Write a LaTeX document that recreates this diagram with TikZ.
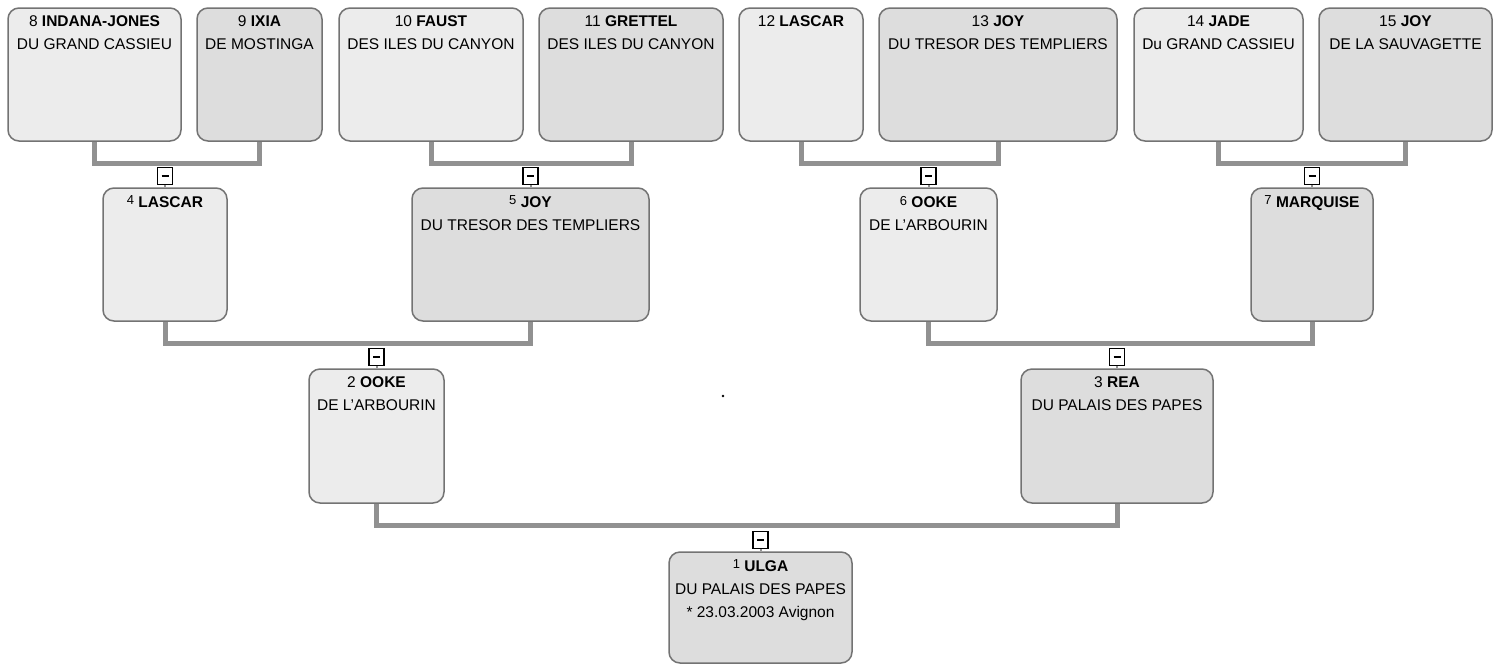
\documentclass[tikz,border=0pt]{standalone}
\usepackage{fontspec}
\setmainfont{Liberation Sans}
\definecolor{boxline}{RGB}{115,115,115}
\definecolor{lightfill}{RGB}{236,236,236}
\definecolor{darkfill}{RGB}{221,221,221}
\definecolor{connc}{RGB}{145,145,145}
\newcommand{\rn}[1]{\raisebox{2.5pt}{\fontsize{13}{13}\selectfont #1}}
\tikzset{
  pbox/.style={draw=boxline, line width=1.5pt, rounded corners=11pt, inner sep=0pt, minimum height=133pt},
  lbl/.style={anchor=north, align=center, inner sep=0pt, yshift=-8.5pt, font=\fontsize{15.5}{23}\selectfont},
  conn/.style={draw=connc, line width=5pt, line join=miter},
  minusbox/.style={draw=black, line width=1.6pt, fill=white, minimum width=15pt, minimum height=17pt, inner sep=0pt, anchor=south, yshift=2pt},
  stub/.style={draw=connc, line width=2pt}
}
\begin{document}
\begin{tikzpicture}[x=1pt,y=-1pt]
\useasboundingbox (0,0) rectangle (1499,665);
% row 1
\node[pbox, fill=lightfill, minimum width=173pt, label={[lbl]north:{8 \textbf{INDANA-JONES}\\DU GRAND CASSIEU}}] (b8) at (94.5,74.5) {};
\node[pbox, fill=darkfill, minimum width=125pt, label={[lbl]north:{9 \textbf{IXIA}\\DE MOSTINGA}}] (b9) at (259.5,74.5) {};
\node[pbox, fill=lightfill, minimum width=184pt, label={[lbl]north:{10 \textbf{FAUST}\\DES ILES DU CANYON}}] (b10) at (431,74.5) {};
\node[pbox, fill=darkfill, minimum width=184pt, label={[lbl]north:{11 \textbf{GRETTEL}\\DES ILES DU CANYON}}] (b11) at (631,74.5) {};
\node[pbox, fill=lightfill, minimum width=124pt, label={[lbl]north:{12 \textbf{LASCAR}}}] (b12) at (801,74.5) {};
\node[pbox, fill=darkfill, minimum width=238pt, label={[lbl]north:{13 \textbf{JOY}\\DU TRESOR DES TEMPLIERS}}] (b13) at (998,74.5) {};
\node[pbox, fill=lightfill, minimum width=169pt, label={[lbl]north:{14 \textbf{JADE}\\Du GRAND CASSIEU}}] (b14) at (1218.5,74.5) {};
\node[pbox, fill=darkfill, minimum width=173pt, label={[lbl]north:{15 \textbf{JOY}\\DE LA SAUVAGETTE}}] (b15) at (1405.5,74.5) {};
% row 2
\node[pbox, fill=lightfill, minimum width=124pt, label={[lbl]north:{\rn{4} \textbf{LASCAR}}}] (b4) at (165,254.5) {};
\node[pbox, fill=darkfill, minimum width=237pt, label={[lbl]north:{\rn{5} \textbf{JOY}\\DU TRESOR DES TEMPLIERS}}] (b5) at (530.5,254.5) {};
\node[pbox, fill=lightfill, minimum width=137pt, label={[lbl]north:{\rn{6} \textbf{OOKE}\\DE L'ARBOURIN}}] (b6) at (928.5,254.5) {};
\node[pbox, fill=darkfill, minimum width=122pt, label={[lbl]north:{\rn{7} \textbf{MARQUISE}}}] (b7) at (1312,254.5) {};
% row 3
\node[pbox, fill=lightfill, minimum width=135pt, minimum height=134pt, label={[lbl]north:{2 \textbf{OOKE}\\DE L'ARBOURIN}}] (b2) at (376.5,436) {};
\node[pbox, fill=darkfill, minimum width=192pt, minimum height=134pt, label={[lbl]north:{3 \textbf{REA}\\DU PALAIS DES PAPES}}] (b3) at (1117,436) {};
% row 4
\node[pbox, fill=darkfill, minimum width=183pt, minimum height=111pt, label={[lbl]north:{\rn{1} \textbf{ULGA}\\DU PALAIS DES PAPES\\* 23.03.2003 Avignon}}] (b1) at (760.5,607.5) {};
% connectors
\draw[conn] (b8.south) -- ++(0,22) -| (b9.south);
\draw[conn] (b10.south) -- ++(0,22) -| (b11.south);
\draw[conn] (b12.south) -- ++(0,22) -| (b13.south);
\draw[conn] (b14.south) -- ++(0,22) -| (b15.south);
\draw[conn] (b4.south) -- ++(0,22) -| (b5.south);
\draw[conn] (b6.south) -- ++(0,22) -| (b7.south);
\draw[conn] (b2.south) -- ++(0,22) -| (b3.south);
% collapse markers
\foreach \c in {4,5,6,7,2,3,1}{
  \node[minusbox] (m\c) at (b\c.north) {\rule{7pt}{1.8pt}};
  \draw[stub] (m\c.south) -- (b\c.north);
}
\fill (723,396) circle (1.3pt);
\end{tikzpicture}
\end{document}
